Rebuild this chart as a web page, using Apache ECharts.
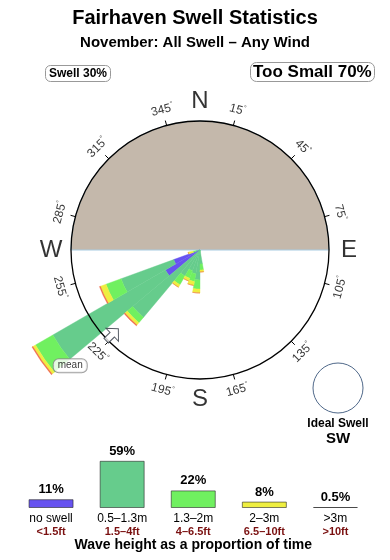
<!DOCTYPE html>
<html><head><meta charset="utf-8">
<script src="https://cdn.jsdelivr.net/npm/echarts@6/dist/echarts.min.js"></script>
<style>html,body{margin:0;padding:0;background:#fff}#c{width:390px;height:560px}</style>
</head><body><div id="c"></div>
<script>
const FONT = 'Liberation Sans, Arial, Helvetica, sans-serif';

// 36 direction bins of 10 degrees (bin i covers bearing 10i .. 10i+10)
const directionBins = ['0','10','20','30','40','50','60','70','80','90',
  '100','110','120','130','140','150','160','170','180','190',
  '200','210','220','230','240','250','260','270','280','290',
  '300','310','320','330','340','350'];

// Stacked wedge lengths per bin (relative frequency, circle ring = 129)
const noSwell = [0,0,0,0,0,0,0,0,0,0, 0,0,0,0,0,0,0,0,0,0, 0,0,0,40,28,0,0,0,0,0, 0,0,0,0,0,0];
const h05to13 = [0,0,0,0,0,0,0,0,0,0, 0,0,0,0,0,0,0,14,30,24, 22,30,88,130,56,4,0,0,0,0, 0,0,0,0,0,0];
const h13to2  = [0,0,0,0,0,0,0,0,0,0, 0,0,0,0,0,0,0,6,9,8, 8,10,7,20,16,3,0,0,0,0, 0,0,0,0,0,0];
const h2to3   = [0,0,0,0,0,0,0,0,0,0, 0,0,0,0,0,0,0,2,4,4, 3,3,3,3,6,5,0,0,0,0, 0,0,0,0,0,0];
const h3plus  = [0,0,0,0,0,0,0,0,0,0, 0,0,0,0,0,0,0,0,0,0, 0,0,1,1,1,0,0,0,0,0, 0,0,0,0,0,0];

const ringRadius = 129;               // value of the compass circle
const landSea = [180, 180];           // degrees of land (N half) vs open sea
const degreeTicks = [15,45,75,105,135,165,195,225,255,285,315,345];
const compassLetters = ['N','E','S','W'];
const compassBearings = [0,90,180,270];
const meanDirection = 226;

const swellShare = 30, tooSmallShare = 70;
const heightClasses = ['no swell','0.5–1.3m','1.3–2m','2–3m','>3m'];
const heightFeet = ['<1.5ft','1.5–4ft','4–6.5ft','6.5–10ft','>10ft'];
const heightShares = [11, 59, 22, 8, 0.5];

const colors = ['#6753f0','#66cc8c','#70f060','#eeee40','#f06a48'];
const legendColors = ['#6753f0','#66cc8c','#70f060','#eeee40','#c09890'];

const CX = 200, CY = 250;

const stackSeries = [noSwell, h05to13, h13to2, h2to3, h3plus].map((arr, i) => ({
  type: 'bar', coordinateSystem: 'polar', polarIndex: 1, stack: 'rose',
  barCategoryGap: '0%', barGap: '0%', z: 2, silent: true,
  itemStyle: { color: colors[i], borderColor: colors[i], borderWidth: 0.4 },
  data: arr
}));

const degLabelData = degreeTicks.map(d => {
  const raw = (d < 90 || d > 270) ? -d : 180 - d;
  const rot = ((raw + 540) % 360) - 180;
  return { value: [145, d], label: { rotate: rot, formatter: '{n|' + d + '}{d|°}' } };
});

const option = {
  backgroundColor: '#fff',
  animation: false,
  textStyle: { fontFamily: FONT },
  title: [
    { text: 'Fairhaven Swell Statistics', left: 'center', top: 8, padding: 0,
      textStyle: { fontSize: 20, fontWeight: 'bold', color: '#000', fontFamily: FONT } },
    { text: 'November: All Swell – Any Wind', left: 'center', top: 35, padding: 0,
      textStyle: { fontSize: 15, fontWeight: 'bold', color: '#000', fontFamily: FONT } },
    { text: 'Swell ' + swellShare + '%', left: 45, top: 65, padding: [3, 4, 2, 4],
      borderColor: '#999', borderWidth: 1, borderRadius: 5,
      textStyle: { fontSize: 12, fontWeight: 'bold', color: '#000', fontFamily: FONT } },
    { text: 'Too Small ' + tooSmallShare + '%', left: 250, top: 62, padding: [2, 3, 1, 3],
      borderColor: '#999', borderWidth: 1, borderRadius: 6,
      textStyle: { fontSize: 17, fontWeight: 'bold', color: '#000', fontFamily: FONT } }
  ],
  polar: [
    { center: [CX, CY], radius: ringRadius },
    { center: [CX, CY], radius: 200 },
    { center: [CX, CY], radius: 200 }
  ],
  angleAxis: [
    { polarIndex: 0, type: 'value', min: -15, max: 345, interval: 30, startAngle: 105, clockwise: true, z: 10,
      axisLine: { lineStyle: { color: '#000', width: 1.3 } },
      axisTick: { show: true, length: 5, lineStyle: { color: '#000', width: 1 } },
      axisLabel: { show: false }, splitLine: { show: false } },
    { polarIndex: 1, type: 'category', data: directionBins, startAngle: 90, clockwise: true, show: false },
    { polarIndex: 2, type: 'value', min: 0, max: 360, startAngle: 90, clockwise: true, show: false }
  ],
  radiusAxis: [
    { polarIndex: 0, type: 'value', min: 0, max: ringRadius, show: false },
    { polarIndex: 1, type: 'value', min: 0, max: 200, show: false },
    { polarIndex: 2, type: 'value', min: 0, max: 200, show: false }
  ],
  grid: { left: 15.5, width: 355.5, top: 428, height: 80 },
  xAxis: { type: 'category', data: heightClasses, gridIndex: 0,
    axisLine: { show: false }, axisTick: { show: false },
    axisLabel: { margin: 5, interval: 0,
      formatter: (v, i) => '{a|' + v + '}\n{b|' + heightFeet[i] + '}',
      rich: { a: { fontSize: 12, color: '#000', lineHeight: 12, fontFamily: FONT },
              b: { fontSize: 11, fontWeight: 'bold', color: '#7a1010', lineHeight: 13, fontFamily: FONT } } },
    name: 'Wave height as a proportion of time', nameLocation: 'middle', nameGap: 30,
    nameTextStyle: { fontSize: 14, fontWeight: 'bold', color: '#000', fontFamily: FONT } },
  yAxis: { type: 'value', min: 0, max: 100, show: false, gridIndex: 0 },
  series: [
    { type: 'pie', center: [CX, CY], radius: [0, ringRadius], startAngle: 180, clockwise: true,
      silent: true, z: 1, label: { show: false }, labelLine: { show: false },
      emphasis: { disabled: true },
      data: [
        { value: landSea[0], itemStyle: { color: '#c4b8ab', borderColor: '#a8cce2', borderWidth: 1 } },
        { value: landSea[1], itemStyle: { color: 'rgba(0,0,0,0)', borderWidth: 0 } }
      ] },
    ...stackSeries,
    { type: 'scatter', coordinateSystem: 'polar', polarIndex: 2, z: 12, silent: true, clip: false,
      symbolSize: 1, itemStyle: { color: 'rgba(0,0,0,0)' },
      label: { show: true, position: 'inside', color: '#000',
        rich: { n: { fontSize: 12, color: '#000', fontFamily: FONT, lineHeight: 14 },
                d: { fontSize: 7, color: '#000', fontFamily: FONT, verticalAlign: 'top', lineHeight: 14 } } },
      data: degLabelData },
    { type: 'scatter', coordinateSystem: 'polar', polarIndex: 2, z: 12, silent: true, clip: false,
      symbolSize: 1, itemStyle: { color: 'rgba(0,0,0,0)' },
      label: { show: true, position: 'inside', formatter: '{b}', fontSize: 24, color: '#000', fontFamily: FONT },
      data: compassLetters.map((l, i) => ({ name: l, value: [149, compassBearings[i]] })) },
    { type: 'scatter', coordinateSystem: 'polar', polarIndex: 2, z: 12, silent: true, clip: false,
      symbol: 'path://M10,0 L20,9 L13.5,9 L13.5,18 L6.5,18 L6.5,9 L0,9 Z',
      symbolSize: [18, 17], symbolRotate: -(meanDirection - 180),
      itemStyle: { color: '#fff', borderColor: '#2d3540', borderWidth: 1 },
      label: { show: true, formatter: 'mean', position: 'inside', offset: [-42, 31],
        fontSize: 10, color: '#000', fontFamily: FONT,
        borderColor: '#888', borderWidth: 1, borderRadius: 5, padding: [2, 4, 1, 4], backgroundColor: '#fff' },
      data: [[122, meanDirection]] },
    { type: 'bar', xAxisIndex: 0, yAxisIndex: 0, barWidth: 45, barMinHeight: 1, silent: true,
      data: heightShares.map((v, i) => ({ value: v, itemStyle: { color: legendColors[i] } })),
      itemStyle: { borderColor: 'rgba(40,40,40,0.6)', borderWidth: 1 },
      label: { show: true, position: 'top', distance: 3, formatter: '{c}%',
        fontSize: 13, fontWeight: 'bold', color: '#000', fontFamily: FONT } }
  ],
  graphic: [
    { type: 'circle', shape: { cx: 338, cy: 388, r: 25 }, style: { fill: 'none', stroke: '#50698a', lineWidth: 1 } },
    { type: 'text', x: 338, y: 424, style: { text: 'Ideal Swell', align: 'center', verticalAlign: 'middle', font: 'bold 12px ' + FONT, fill: '#000' } },
    { type: 'text', x: 338, y: 439, style: { text: 'SW', align: 'center', verticalAlign: 'middle', font: 'bold 15px ' + FONT, fill: '#000' } }
  ]
};

const chart = echarts.init(document.getElementById('c'), null, { renderer: 'canvas' });
chart.setOption(option);
</script>
</body></html>
